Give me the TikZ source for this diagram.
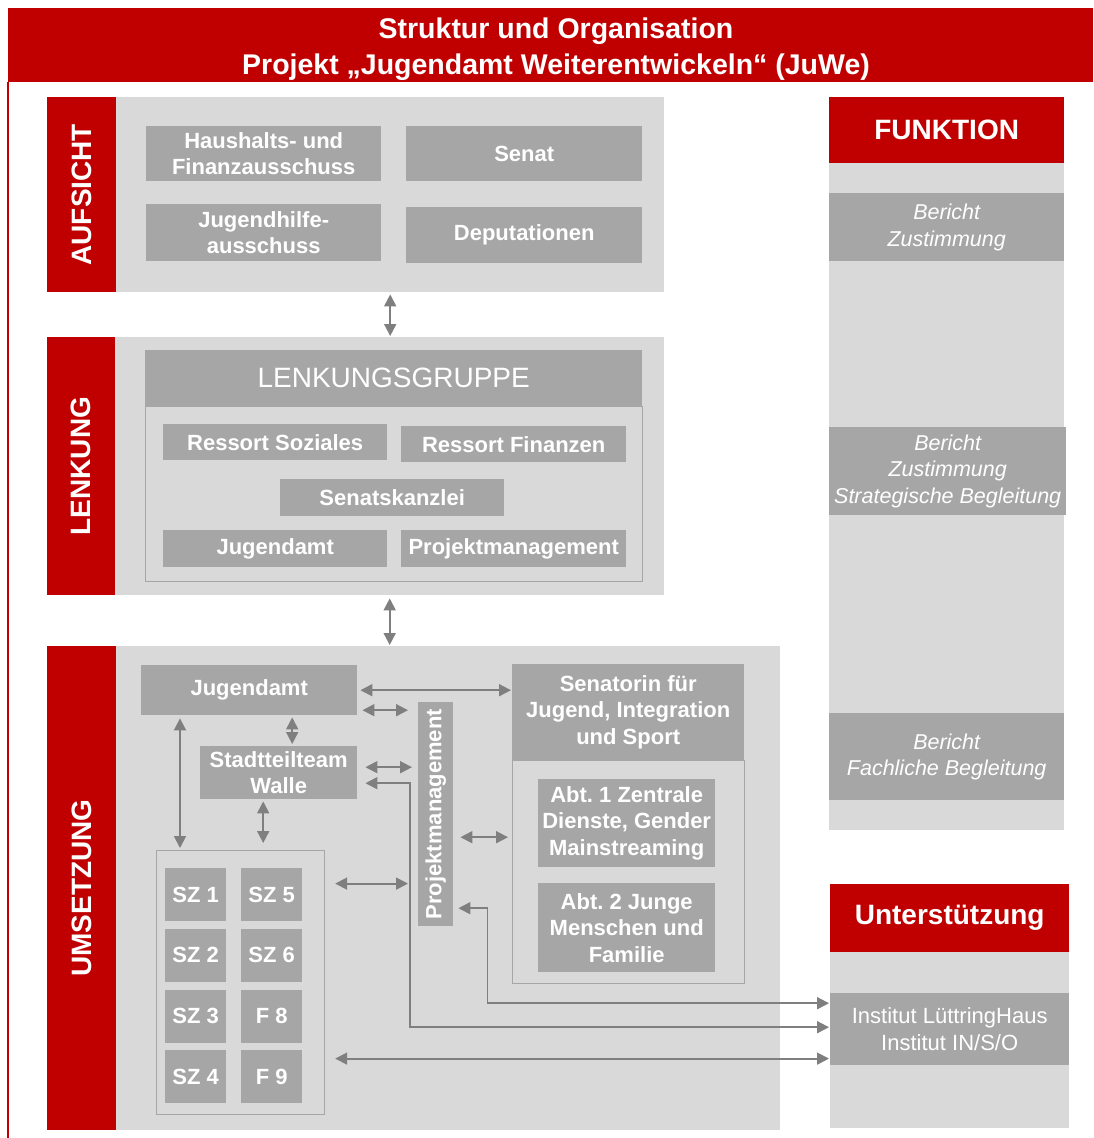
\documentclass[tikz,border=0pt]{standalone}
\usepackage{fontspec}
\setmainfont{Liberation Sans}
\usepackage{graphicx}
\usetikzlibrary{calc,arrows.meta}
\frenchspacing
\definecolor{juwered}{HTML}{C00000}
\definecolor{juwepanel}{HTML}{D9D9D9}
\definecolor{juwebox}{HTML}{A6A6A6}
\definecolor{juweline}{HTML}{7F7F7F}
\tikzset{
  orgpanel/.style={fill=juwepanel,inner sep=0pt,anchor=north west},
  orgbox/.style={fill=juwebox,text=white,inner sep=0pt,anchor=north west,align=center,font=\fontsize{22}{26.5}\selectfont\bfseries},
  orghead/.style={fill=juwered,text=white,inner sep=0pt,anchor=north west,align=center,font=\fontsize{28}{34}\selectfont\bfseries},
  orgnote/.style={orgbox,font=\fontsize{21.5}{26.5}\selectfont\itshape},
  orgframe/.style={draw=juwebox,line width=1.2pt,inner sep=0pt,anchor=north west},
  orglink/.style={draw=juweline,line width=1.8pt,{Triangle[length=12pt,width=12pt]}-{Triangle[length=12pt,width=12pt]}},
}
\begin{document}
\begin{tikzpicture}[x=1pt,y=-1pt]
        \useasboundingbox (0,0) rectangle (1093,1138);
        \fill[white] (0,0) rectangle (1093,1138);
        \fill[juwered] (8,8) rectangle (1093,82);
        \draw[juwered,line width=1.5pt] (8,82) -- (8,1138);
        \node[text=white,align=center,font=\fontsize{28.5}{36}\selectfont\bfseries] (title) at (556,49) {Struktur und Organisation\\Projekt „Jugendamt Weiterentwickeln“ (JuWe)};
        % Aufsicht
        \node[orgpanel,minimum width=548,minimum height=195] (aufP) at (116,97) {};
        \node[orghead,minimum width=69,minimum height=195] (aufL) at (47,97) {\rotatebox{90}{AUFSICHT}};
        \node[orgbox,minimum width=235,minimum height=55] (hfa) at (146,126) {Haushalts- und\\Finanzausschuss};
        \node[orgbox,minimum width=236,minimum height=55] (senat) at (406,126) {Senat};
        \node[orgbox,minimum width=235,minimum height=57] (jha) at (146,204) {Jugendhilfe-\\ausschuss};
        \node[orgbox,minimum width=236,minimum height=56] (dep) at (406,207) {Deputationen};
        % Lenkung
        \node[orgpanel,minimum width=549,minimum height=258] (lenP) at (115,337) {};
        \node[orghead,minimum width=68,minimum height=258] (lenL) at (47,337) {\rotatebox{90}{LENKUNG}};
        \node[orgbox,font=\fontsize{28}{34}\selectfont,minimum width=497,minimum height=56] (lgHead) at (145,350) {LENKUNGSGRUPPE};
        \node[orgframe,minimum width=497,minimum height=175] (lgFrame) at (145,406) {};
        \node[orgbox,minimum width=224,minimum height=36] (rsoz) at (163,424) {Ressort Soziales};
        \node[orgbox,minimum width=225,minimum height=36] (rfin) at (401,426) {Ressort Finanzen};
        \node[orgbox,minimum width=224,minimum height=37] (skz) at (280,479) {Senatskanzlei};
        \node[orgbox,minimum width=224,minimum height=37] (jugL) at (163,530) {Jugendamt};
        \node[orgbox,minimum width=225,minimum height=37] (pmL) at (401,530) {Projektmanagement};
        % Umsetzung
        \node[orgpanel,minimum width=664,minimum height=484] (umsP) at (116,646) {};
        \node[orghead,minimum width=69,minimum height=484] (umsL) at (47,646) {\rotatebox{90}{UMSETZUNG}};
        \node[orgbox,minimum width=216,minimum height=50] (jugU) at (141,665) {Jugendamt};
        \node[orgbox,minimum width=157,minimum height=53] (stt) at (200,746) {Stadtteilteam\\Walle};
        \node[orgbox,minimum width=35,minimum height=224] (pmU) at (418,702) {\rotatebox{90}{Projektmanagement}};
        \node[orgbox,minimum width=232,minimum height=96] (sen) at (512,664) {Senatorin für\\Jugend, Integration\\und Sport};
        \node[orgframe,minimum width=232,minimum height=223] (senO) at (512,760) {};
        \node[orgbox,minimum width=177,minimum height=88] (abt1) at (538,779) {Abt. 1 Zentrale\\Dienste, Gender\\Mainstreaming};
        \node[orgbox,minimum width=177,minimum height=89] (abt2) at (538,883) {Abt. 2 Junge\\Menschen und\\Familie};
        \node[orgframe,minimum width=168,minimum height=264] (szG) at (156,850) {};
        \foreach \nm/\txt/\col/\row in {sz1/SZ 1/0/0,sz2/SZ 2/0/1,sz3/SZ 3/0/2,sz4/SZ 4/0/3,sz5/SZ 5/1/0,sz6/SZ 6/1/1,f8/F 8/1/2,f9/F 9/1/3}
          \node[orgbox,minimum width=61,minimum height=53] (\nm) at ({165+76*\col},{868+60.7*\row}) {\txt};
        % Funktion
        \node[orghead,minimum width=235,minimum height=66] (fktH) at (829,97) {FUNKTION};
        \node[orgpanel,minimum width=235,minimum height=667] (fktP) at (829,163) {};
        \node[orgnote,minimum width=235,minimum height=68] (fk1) at (829,193) {Bericht\\Zustimmung};
        \node[orgnote,minimum width=237,minimum height=88] (fk2) at (829,427) {Bericht\\Zustimmung\\Strategische Begleitung};
        \node[orgnote,minimum width=235,minimum height=87] (fk3) at (829,713) {Bericht\\Fachliche Begleitung};
        % Unterstuetzung
        \node[orghead,minimum width=239,minimum height=68] (untH) at (830,884) {Unterstützung};
        \node[orgpanel,minimum width=239,minimum height=176] (untP) at (830,952) {};
        \node[orgbox,font=\fontsize{22}{26.5}\selectfont,minimum width=239,minimum height=72] (inst) at (830,993) {Institut LüttringHaus\\Institut IN/S/O};
        % Verbindungen
        \draw[orglink,shorten <=2pt,shorten >=1pt] (aufP.south) -- (aufP.south |- lenP.north);
        \draw[orglink,shorten <=3pt,shorten >=1pt] (lenP.south) -- (lenP.south |- umsP.north);
        \draw[orglink,shorten <=3pt,shorten >=1pt] (jugU.east) -- (jugU.east -| sen.west);
        \draw[orglink,shorten <=5pt,shorten >=10pt] ([yshift=-20pt]jugU.east) -- ([yshift=-20pt]jugU.east -| pmU.west);
        \draw[orglink,shorten <=2pt,shorten >=2pt] ([xshift=13.5pt]stt.north) -- ([xshift=13.5pt]stt.north |- jugU.south);
        \draw[orglink,shorten <=2pt,shorten >=3pt] ([xshift=24pt]szG.north west) -- ([xshift=24pt]szG.north west |- jugU.south);
        \draw[orglink,shorten <=2pt,shorten >=7pt] ([xshift=-15.5pt]stt.south) -- ([xshift=-15.5pt]stt.south |- szG.north);
        \draw[orglink,shorten <=8pt,shorten >=6pt] ([yshift=5.5pt]stt.east) -- ([yshift=5.5pt]stt.east -| pmU.west);
        \draw[orglink,shorten <=8pt,shorten >=1pt] ([yshift=-10.5pt]stt.east) -| ([xshift=-8pt]pmU.south west) |- ([yshift=2pt]inst.west);
        \draw[orglink,shorten <=7pt,shorten >=4pt] ([yshift=-23pt]pmU.east) -- ([yshift=-23pt]pmU.east -| senO.west);
        \draw[orglink,shorten <=10pt,shorten >=10pt] ([yshift=99pt]szG.east) -- ([yshift=99pt]szG.east -| pmU.west);
        \draw[orglink,shorten <=5pt,shorten >=1pt] ([yshift=-94pt]pmU.east) -| ([xshift=34pt]pmU.south east) |- ([yshift=26pt]inst.west);
        \draw[orglink,shorten <=10pt,shorten >=1pt] ([yshift=-76pt]szG.east) -- ([yshift=-76pt]szG.east -| inst.west);
    \end{tikzpicture}
\end{document}
